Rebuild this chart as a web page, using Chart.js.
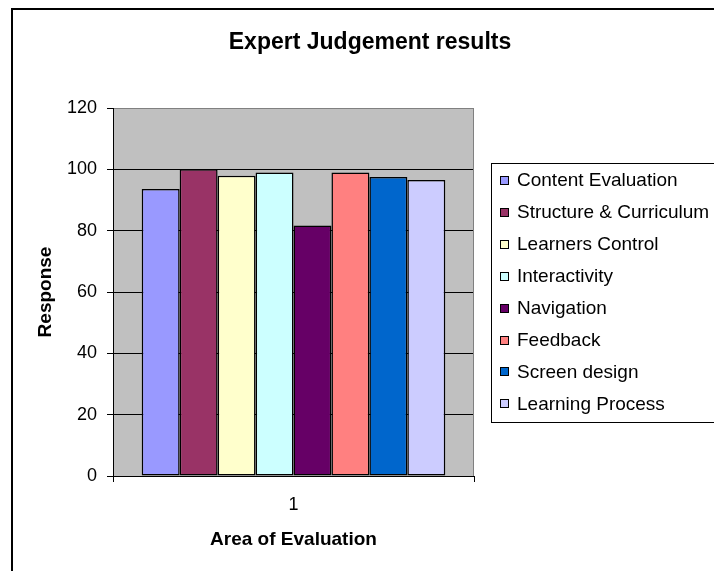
<!DOCTYPE html>
<html>
<head>
<meta charset="utf-8">
<script src="https://cdn.jsdelivr.net/npm/chart.js@4/dist/chart.umd.min.js"></script>
<style>
  body { margin: 0; background: #fff; }
  #wrap { width: 714px; height: 571px; }
</style>
</head>
<body>
<div id="wrap"><canvas id="myChart" width="714" height="571"></canvas></div>
<script>
// data
var categories = ['1'];
var seriesNames = ['Content Evaluation', 'Structure & Curriculum', 'Learners Control', 'Interactivity',
                   'Navigation', 'Feedback', 'Screen design', 'Learning Process'];
var seriesValues = [93.6, 100, 97.9, 99, 81.7, 99, 97.5, 96.5];
var yTicks = [0, 20, 40, 60, 80, 100, 120];

// excel 2003 palette
var barColors = ['#9999FF', '#993366', '#FFFFCC', '#CCFFFF', '#660066', '#FF8080', '#0066CC', '#CCCCFF'];

var FONT = "'Liberation Sans', Arial, sans-serif";

var datasets = [];
for (var i = 0; i < seriesNames.length; i++) {
    datasets.push({
        label: seriesNames[i],
        data: [seriesValues[i]],
        backgroundColor: barColors[i],
        borderColor: '#000',
        borderWidth: 1.5,
        borderSkipped: false,
        barPercentage: 1,
        categoryPercentage: 0.841
    });
}

// grey plot area, frame, title and boxed legend
var excelLook = {
    id: 'excelLook',
    beforeDraw: function(chart) {
        var ctx = chart.ctx, a = chart.chartArea;
        ctx.save();
        ctx.fillStyle = '#C0C0C0';
        ctx.fillRect(a.left, a.top, a.right - a.left, a.bottom - a.top);
        ctx.restore();
    },
    afterDraw: function(chart) {
        var ctx = chart.ctx, a = chart.chartArea;
        ctx.save();
        // right edge of plot area
        ctx.strokeStyle = '#808080';
        ctx.lineWidth = 1;
        ctx.beginPath();
        ctx.moveTo(Math.round(a.right) - 0.5, a.top);
        ctx.lineTo(Math.round(a.right) - 0.5, a.bottom);
        ctx.stroke();

        // outer frame
        ctx.strokeStyle = '#000';
        ctx.lineWidth = 2;
        ctx.strokeRect(12, 9, 720, 580);

        // title
        ctx.fillStyle = '#000';
        ctx.font = 'bold 23px ' + FONT;
        ctx.textAlign = 'center';
        ctx.textBaseline = 'middle';
        ctx.fillText('Expert Judgement results', 370, 43);

        // legend
        ctx.lineWidth = 1;
        ctx.strokeRect(491.5, 163.5, 240, 259);
        ctx.font = '19px ' + FONT;
        ctx.textAlign = 'left';
        chart.data.datasets.forEach(function(ds, k) {
            var y = 180 + k * 31.9;
            ctx.fillStyle = ds.backgroundColor;
            ctx.fillRect(500, Math.round(y) - 4, 9, 9);
            ctx.strokeStyle = '#000';
            ctx.strokeRect(500.5, Math.round(y) - 3.5, 8, 8);
            ctx.fillStyle = '#000';
            ctx.fillText(ds.label, 517, y + 1);
        });
        ctx.restore();
    }
};

var ctx = document.getElementById('myChart');

var myChart = new Chart(ctx, {
    type: 'bar',
    data: {
        labels: categories,
        datasets: datasets
    },
    options: {
        responsive: false,
        animation: false,
        devicePixelRatio: 1,
        layout: {
            padding: { top: 108, right: 240, bottom: 0, left: 0 }
        },
        plugins: {
            legend: { display: false },
            title: { display: false },
            tooltip: { enabled: false }
        },
        scales: {
            x: {
                afterFit: function(scale) { scale.height = 95; },
                grid: {
                    offset: true,
                    drawOnChartArea: false,
                    tickLength: 6,
                    tickColor: '#000'
                },
                border: { color: '#000', width: 1 },
                ticks: { color: '#000', padding: 12, font: { family: FONT, size: 18 } },
                title: {
                    display: true,
                    text: 'Area of Evaluation',
                    color: '#000',
                    font: { family: FONT, size: 19, weight: 'bold' },
                    padding: { top: 0, bottom: 20 }
                }
            },
            y: {
                min: 0,
                max: 120,
                afterFit: function(scale) { scale.width = 113; },
                afterBuildTicks: function(scale) {
                    scale.ticks = yTicks.map(function(v) { return { value: v }; });
                },
                grid: {
                    color: function(c) { return c.tick && c.tick.value === 120 ? '#808080' : '#000'; },
                    tickColor: '#000',
                    tickLength: 6
                },
                border: { color: '#000', width: 1 },
                ticks: { color: '#000', padding: 10, font: { family: FONT, size: 18 } },
                title: {
                    display: true,
                    text: 'Response',
                    color: '#000',
                    font: { family: FONT, size: 19, weight: 'bold' },
                    padding: { top: 34, bottom: 0 }
                }
            }
        }
    },
    plugins: [excelLook]
});
</script>
</body>
</html>
